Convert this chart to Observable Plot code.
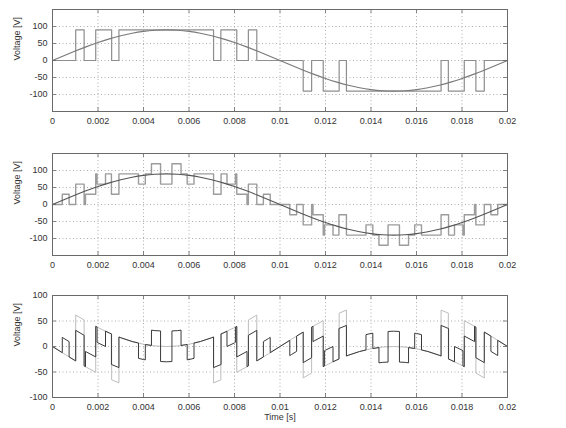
<!DOCTYPE html>
<html><head><meta charset="utf-8">
<script src="https://cdn.jsdelivr.net/npm/d3@7"></script>
<script src="https://cdn.jsdelivr.net/npm/@observablehq/plot@0.6"></script>
<style>
html,body{margin:0;padding:0;background:#fff;overflow:hidden;}
#chart svg{display:block;}
</style></head><body><div id="chart"></div>
<script>
// ---- data ----
const xTicks = [0, 0.002, 0.004, 0.006, 0.008, 0.01, 0.012, 0.014, 0.016, 0.018, 0.02];
const xTickLabels = ["0", "0.002", "0.004", "0.006", "0.008", "0.01", "0.012", "0.014", "0.016", "0.018", "0.02"];
const yTicksTop = [-100, -50, 0, 50, 100];
const yTickLabelsTop = ["-100", "-50", "0", "50", "100"];
const yTicksBottom = [-100, -50, 0, 50, 100];
const yTickLabelsBottom = ["-100", "-50", "0", "50", "100"];
const yLabel = "Voltage [V]";
const xLabel = "Time [s]";

// reference sine, sampled every 0.5 ms
const sineTimes = [0, 0.0005, 0.001, 0.0015, 0.002, 0.0025, 0.003, 0.0035, 0.004, 0.0045, 0.005,
  0.0055, 0.006, 0.0065, 0.007, 0.0075, 0.008, 0.0085, 0.009, 0.0095, 0.01,
  0.0105, 0.011, 0.0115, 0.012, 0.0125, 0.013, 0.0135, 0.014, 0.0145, 0.015,
  0.0155, 0.016, 0.0165, 0.017, 0.0175, 0.018, 0.0185, 0.019, 0.0195, 0.02];
const sineValues = [0, 14.1, 27.8, 40.9, 52.9, 63.6, 72.8, 80.2, 85.6, 88.9, 90,
  88.9, 85.6, 80.2, 72.8, 63.6, 52.9, 40.9, 27.8, 14.1, 0,
  -14.1, -27.8, -40.9, -52.9, -63.6, -72.8, -80.2, -85.6, -88.9, -90,
  -88.9, -85.6, -80.2, -72.8, -63.6, -52.9, -40.9, -27.8, -14.1, 0];

// 3-level PWM output (switching instants and level held from each instant)
const pwm3Times = [0, 0.00102, 0.00139, 0.0019, 0.0026, 0.00292, 0.00708, 0.0074, 0.0081, 0.00861, 0.00898,
  0.01102, 0.01139, 0.0119, 0.0126, 0.01292, 0.01708, 0.0174, 0.0181, 0.01861, 0.01898, 0.02];
const pwm3Levels = [0, 90, 0, 90, 0, 90, 0, 90, 0, 90, 0,
  -90, 0, -90, 0, -90, 0, -90, 0, -90, 0, 0];

// multilevel output
const pwmMTimes = [0, 0.00043, 0.00073, 0.00102, 0.00139, 0.00145, 0.0019, 0.00196, 0.00233, 0.00259,
  0.00292, 0.00378, 0.00408, 0.00435, 0.00475, 0.00525, 0.00565, 0.00592, 0.00622, 0.00708,
  0.00741, 0.00767, 0.00804, 0.0081, 0.00855, 0.00861, 0.00898, 0.00927, 0.00957,
  0.01043, 0.01073, 0.01102, 0.01139, 0.01145, 0.0119, 0.01196, 0.01233, 0.01259,
  0.01292, 0.01378, 0.01408, 0.01435, 0.01475, 0.01525, 0.01565, 0.01592, 0.01622, 0.01708,
  0.01741, 0.01767, 0.01804, 0.0181, 0.01855, 0.01861, 0.01898, 0.01927, 0.01957, 0.02];
const pwmMLevels = [0, 30, 0, 60, 0, 30, 90, 60, 90, 30,
  90, 60, 90, 120, 60, 120, 90, 60, 90, 30,
  90, 60, 90, 30, 0, 60, 0, 30, 0,
  -30, 0, -60, 0, -30, -90, -60, -90, -30,
  -90, -60, -90, -120, -60, -120, -90, -60, -90, -30,
  -90, -60, -90, -30, 0, -60, 0, -30, 0, 0];

// ---- tables built from the arrays ----
const sineData = sineTimes.map((t, i) => ({t, v: sineValues[i]}));
const stepData = (times, levels) => times.map((t, i) => ({t, v: levels[i]}));
function sineAt(t) {
  const i = Math.min(sineTimes.length - 2, Math.max(0, d3.bisectRight(sineTimes, t) - 1));
  const t0 = sineTimes[i], t1 = sineTimes[i + 1];
  return sineValues[i] + (sineValues[i + 1] - sineValues[i]) * (t - t0) / (t1 - t0);
}
function errorData(times, levels) {
  const pts = [];
  for (let i = 0; i < times.length - 1; i++) {
    const a = times[i], b = times[i + 1], L = levels[i];
    pts.push({t: a, v: L - sineAt(a)});
    for (const s of sineTimes) if (s > a && s < b) pts.push({t: s, v: L - sineAt(s)});
    pts.push({t: b, v: L - sineAt(b)});
  }
  return pts;
}

const font = "'Liberation Sans', Arial, Helvetica, sans-serif";
const lab = (ticks, labels) => d => { const k = ticks.findIndex(x => Math.abs(x - d) < 1e-12); return k < 0 ? "" : labels[k]; };

function panel({yDomain, yTicks, yTickLabels, marks, height, marginTop, marginBottom, withXLabel}) {
  const fh = height - marginTop - marginBottom;
  const fw = 566 - 52 - 59;
  return Plot.plot({
    width: 566, height, marginLeft: 52, marginRight: 59, marginTop, marginBottom,
    style: {fontFamily: font, fontSize: "9px", color: "#333", background: "#fff", overflow: "visible"},
    x: {domain: [0, 0.02], label: null},
    y: {domain: yDomain, label: null},
    marks: [
      Plot.gridX(xTicks, {stroke: "#9a9a9a", strokeOpacity: 1, strokeWidth: 0.8, strokeDasharray: "1,2.5"}),
      Plot.gridY(yTicks, {stroke: "#9a9a9a", strokeOpacity: 1, strokeWidth: 0.8, strokeDasharray: "1,2.5"}),
      ...marks,
      Plot.tickX(xTicks, {x: d => d, insetTop: fh - 4, stroke: "#666", strokeWidth: 0.8}),
      Plot.tickX(xTicks, {x: d => d, insetBottom: fh - 4, stroke: "#666", strokeWidth: 0.8}),
      Plot.tickY(yTicks, {y: d => d, insetRight: fw - 4, stroke: "#666", strokeWidth: 0.8}),
      Plot.tickY(yTicks, {y: d => d, insetLeft: fw - 4, stroke: "#666", strokeWidth: 0.8}),
      Plot.axisX(xTicks, {tickSize: 0, tickPadding: 6, tickFormat: lab(xTicks, xTickLabels), fill: "#333", label: null}),
      Plot.axisY(yTicks, {tickSize: 0, tickPadding: 5, tickFormat: lab(yTicks, yTickLabels), fill: "#333", label: null}),
      Plot.text([yLabel], {frameAnchor: "left", dx: -35, rotate: -90, text: d => d, fill: "#333", fontSize: 9}),
      withXLabel ? Plot.text([xLabel], {frameAnchor: "bottom", dy: 20, text: d => d, fill: "#333", fontSize: 9, lineAnchor: "middle"}) : null,
      Plot.frame({stroke: "#6a6a6a", strokeWidth: 1})
    ]
  });
}

const chart = document.getElementById("chart");

chart.append(panel({
  yDomain: [-150, 150], yTicks: yTicksTop, yTickLabels: yTickLabelsTop,
  height: 143, marginTop: 9, marginBottom: 32,
  marks: [
    Plot.line(stepData(pwm3Times, pwm3Levels), {x: "t", y: "v", curve: "step-after", stroke: "#8e8e8e", strokeWidth: 1.2}),
    Plot.line(sineData, {x: "t", y: "v", curve: "natural", stroke: "#7a7a7a", strokeWidth: 1.2})
  ]
}));

chart.append(panel({
  yDomain: [-150, 150], yTicks: yTicksTop, yTickLabels: yTickLabelsTop,
  height: 143, marginTop: 10, marginBottom: 31,
  marks: [
    Plot.line(stepData(pwmMTimes, pwmMLevels), {x: "t", y: "v", curve: "step-after", stroke: "#9c9c9c", strokeWidth: 1.4}),
    Plot.line(sineData, {x: "t", y: "v", curve: "natural", stroke: "#555", strokeWidth: 1.1})
  ]
}));

chart.append(panel({
  yDomain: [-100, 100], yTicks: yTicksBottom, yTickLabels: yTickLabelsBottom,
  height: 142, marginTop: 9, marginBottom: 31, withXLabel: true,
  marks: [
    Plot.line(errorData(pwm3Times, pwm3Levels), {x: "t", y: "v", stroke: "#bdbdbd", strokeWidth: 1}),
    Plot.line(errorData(pwmMTimes, pwmMLevels), {x: "t", y: "v", stroke: "#3a3a3a", strokeWidth: 1})
  ]
}));
</script>
</body></html>
